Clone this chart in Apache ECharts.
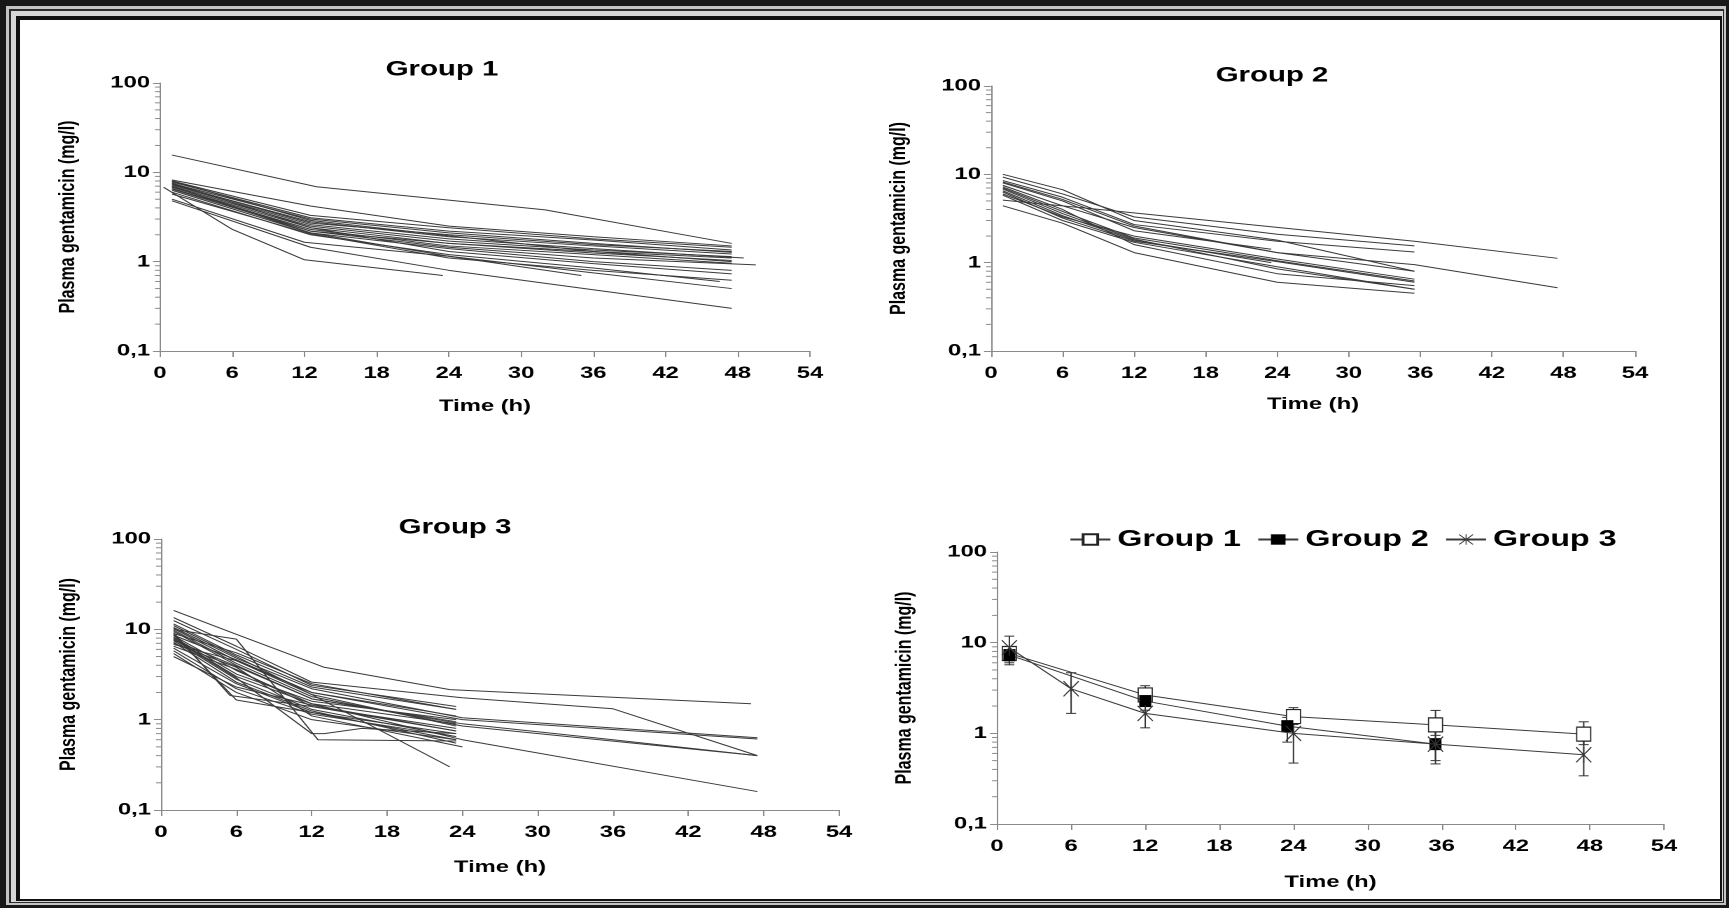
<!DOCTYPE html>
<html>
<head>
<meta charset="utf-8">
<script src="https://cdn.jsdelivr.net/npm/echarts@6/dist/echarts.min.js"></script>
<style>
  html, body { margin: 0; padding: 0; overflow: hidden; background: #181818; }
  .band { position: absolute; }
  #chart { position: absolute; left: 0; top: 0; height: 908px; transform-origin: 0 0; }
</style>
</head>
<body>
<div class="band" style="left:6px;top:6px;right:3px;bottom:3px;background:#c4c4c4"></div>
<div class="band" style="left:9px;top:9px;right:5px;bottom:5px;background:#2a2a2a"></div>
<div class="band" style="left:11px;top:11px;right:6px;bottom:6px;background:#d6d6d6"></div>
<div class="band" style="left:16px;top:16px;right:7px;bottom:7px;background:#111"></div>
<div class="band" style="left:20px;top:20px;right:9px;bottom:9px;background:#fff"></div>
<div id="chart"></div>
<script>
// the figure is stretched horizontally, so draw narrower and scale up
var STRETCH = 1.4;
function sx(x) { return x / STRETCH; }

// time (h), concentration (mg/l) for each patient
var group1Curves = [
  [[1, 15.6], [13, 6.9], [32, 3.8], [47.5, 1.6]],
  [[0.3, 6.8], [6, 2.3], [12, 1.05], [23.5, 0.7]],
  [[1, 5.0], [12, 1.65], [24, 1.15], [35, 0.7]],
  [[1, 4.8], [12.5, 1.45], [24, 0.8], [47.5, 0.3]],
  [[1, 8.2], [12.5, 4.2], [24, 2.5], [36, 1.9], [47.5, 1.5]],
  [[1, 8.0], [12.5, 3.3], [24, 2.4], [36, 1.8], [47.5, 1.45]],
  [[1, 7.8], [12.5, 3.1], [24, 2.2], [36, 1.75], [47.5, 1.35]],
  [[1, 7.5], [12.5, 3.0], [24, 2.1], [36, 1.6], [47.5, 1.27]],
  [[1, 7.3], [12.5, 2.8], [24, 1.9], [36, 1.5], [47.5, 1.22]],
  [[1, 7.2], [12.5, 2.6], [24, 1.8], [36, 1.4], [48.5, 1.1]],
  [[1, 7.0], [12.5, 2.5], [24, 1.7], [36, 1.35], [47.5, 1.14]],
  [[1, 6.8], [12.5, 2.4], [24, 1.6], [36, 1.25], [47.5, 1.03]],
  [[1, 6.6], [12.5, 2.3], [24, 1.5], [36, 1.2], [47.5, 0.96]],
  [[1, 6.5], [12.5, 2.2], [24, 1.45], [36, 1.1], [49.5, 0.92]],
  [[1, 6.3], [12.5, 2.1], [24, 1.4], [36, 1.0], [47.5, 0.8]],
  [[1, 7.6], [12.5, 2.4], [24, 1.3], [36, 0.95], [47.5, 0.73]],
  [[1, 6.0], [12.5, 2.0], [24, 1.2], [36, 0.85], [46.5, 0.6]],
  [[1, 5.7], [12.5, 2.05], [24, 1.1], [36, 0.8], [47.5, 0.62]],
  [[1, 7.0], [12.5, 2.1], [24, 1.15], [36, 0.75], [47.5, 0.5]],
  [[1, 8.0], [12.5, 2.9], [24, 1.95], [36, 1.3], [47.5, 1.0]],
  [[1, 7.4], [12.5, 2.7], [24, 2.0], [36, 1.55], [47.5, 1.3]],
  [[1, 6.9], [12.5, 2.2], [24, 1.6], [36, 1.3], [47.5, 1.1]]
];

var group2Curves = [
  [[1, 10], [6, 6.7], [12, 3.0], [24, 1.8], [35.5, 0.8]],
  [[1, 5.1], [10, 3.9], [35.5, 1.75], [47.5, 1.12]],
  [[1, 9.3], [6, 6.0], [12, 3.3], [24, 2.1], [35.5, 1.55]],
  [[1, 8.5], [6, 5.5], [12, 2.7], [24, 1.75], [35.5, 1.32]],
  [[1, 8.2], [6, 5.2], [12, 2.6], [24, 1.3], [35.5, 0.95], [47.5, 0.52]],
  [[1, 7.5], [6, 4.4], [12, 2.5], [24, 1.3], [35.5, 0.8]],
  [[1, 7.0], [6, 3.8], [12, 1.9], [24, 1.05], [35.5, 0.62]],
  [[1, 6.5], [6, 3.4], [12, 1.8], [23.5, 1.0]],
  [[1, 6.3], [6, 3.2], [12, 1.75], [23.5, 1.05], [35.5, 0.6]],
  [[1, 5.8], [6, 3.0], [12, 1.7], [24, 0.9], [35.5, 0.5]],
  [[1, 6.8], [6, 3.6], [12, 1.85], [24, 0.85], [35.5, 0.5]],
  [[1, 4.4], [6, 2.8], [12, 1.3], [24, 0.6], [35.5, 0.45]],
  [[1, 7.2], [6, 4.0], [12, 1.6], [24, 0.75], [35.5, 0.55]],
  [[1, 8.0], [6, 5.0], [12, 2.3], [23.5, 1.42]],
  [[1, 6.0], [6, 3.3], [12, 2.0], [24, 1.1], [35.5, 0.65]]
];

var group3Curves = [
  [[1, 16.2], [6, 8.8], [13, 3.8], [23, 2.15], [47, 1.5]],
  [[1, 13.5], [6, 6.5], [12, 2.6], [24, 1.75], [36, 1.32], [47.5, 0.4]],
  [[1, 12.5], [6, 6.0], [12, 2.4], [23.5, 1.4]],
  [[1, 11.5], [6, 5.2], [12, 2.3], [23.5, 1.3]],
  [[1, 10.5], [6, 4.8], [12, 2.2], [24, 1.05], [47.5, 0.63]],
  [[1, 10.2], [6, 4.5], [12, 2.0], [24, 1.0], [47.5, 0.61]],
  [[1, 10], [6, 7.8], [12.5, 0.6], [23.5, 0.58]],
  [[1, 9.8], [6, 4.2], [12, 1.8], [24, 0.85], [47.5, 0.4]],
  [[1, 9.5], [6, 4.0], [12, 1.7], [24, 0.9], [36, 0.6], [47.5, 0.4]],
  [[1, 9.2], [5.5, 1.85], [12, 1.4], [23.5, 0.75]],
  [[1, 8.8], [6, 1.65], [12, 1.2], [23.5, 0.6]],
  [[1, 8.5], [6, 3.5], [12, 1.5], [24, 0.6], [47.5, 0.16]],
  [[1, 8.2], [6, 3.2], [12, 1.6], [23.5, 1.0]],
  [[1, 8.0], [6, 3.0], [12, 1.5], [23.5, 0.9]],
  [[1, 7.8], [6, 2.9], [12, 0.7], [13, 0.7], [16, 0.8], [23.5, 0.7]],
  [[1, 7.5], [6, 2.8], [12, 1.3], [23.5, 0.65]],
  [[1, 7.2], [6, 2.6], [12, 1.25], [23.5, 0.55]],
  [[1, 7.0], [6, 3.8], [12, 1.1], [24, 0.5]],
  [[1, 6.8], [6, 4.5], [12, 1.9], [23, 0.3]],
  [[1, 6.5], [6, 3.6], [12, 1.4], [23.5, 0.8]],
  [[1, 6.2], [6, 2.5], [12, 1.2], [23.5, 0.7]],
  [[1, 5.8], [6, 2.2], [12, 1.15], [23.5, 0.65]],
  [[1, 5.4], [6, 2.0], [12, 1.0], [23.5, 0.6]],
  [[1, 5.0], [6, 2.3], [12, 1.45], [23.5, 0.75]],
  [[1, 9.0], [6, 5.5], [12, 2.5], [23.5, 1.3]],
  [[1, 8.6], [6, 4.6], [12, 2.0], [23.5, 1.1]],
  [[1, 7.6], [6, 3.9], [12, 1.7], [23.5, 0.95]],
  [[1, 11], [6, 5.0], [12, 1.9], [23.5, 0.85]]
];

// mean and spread per group (last panel)
var meanTime1 = [1, 12, 24, 35.5, 47.5];
var mean1 = [7.6, 2.65, 1.53, 1.24, 0.98];
var low1 = [6.3, 2.1, 1.25, 0.95, 0.75];
var high1 = [9.0, 3.35, 1.92, 1.79, 1.34];

var meanTime2 = [1, 12, 23.5, 35.5];
var mean2 = [7.3, 2.27, 1.2, 0.76];
var low2 = [6.0, 1.8, 0.8, 0.46];
var high2 = [8.6, 2.9, 1.5, 1.1];

var meanTime3 = [1, 6, 12, 24, 35.5, 47.5];
var mean3 = [8.8, 3.1, 1.66, 1.0, 0.76, 0.58];
var low3 = [5.7, 1.66, 1.15, 0.47, 0.5, 0.34];
var high3 = [11.8, 4.66, 2.3, 1.4, 1.05, 0.9];

var minorTickValues = [0.2, 0.3, 0.4, 0.5, 0.6, 0.7, 0.8, 0.9,
  2, 3, 4, 5, 6, 7, 8, 9, 20, 30, 40, 50, 60, 70, 80, 90];

var FONT = '"Liberation Sans", Arial, sans-serif';
var AXIS_COLOR = '#8a8a8a';
var LINE_COLOR = '#3a3a3a';

var dom = document.getElementById('chart');
dom.style.width = sx(1729) + 'px';
dom.style.transform = 'scaleX(' + STRETCH + ')';
var chart = echarts.init(dom, null, { renderer: 'canvas', devicePixelRatio: 2 });

// panel boxes in page pixels: left, top, width, height, x-name gap
var panels = [
  [160, 83, 650, 268, 47],
  [991, 86, 644, 265, 45],
  [161, 539, 678, 271, 49],
  [997, 552, 667, 272, 50]
];

var grids = [], xAxes = [], yAxes = [], series = [];
panels.forEach(function (p, i) {
  grids.push({ left: sx(p[0]), top: p[1], width: sx(p[2]), height: p[3] });
  xAxes.push({
    gridIndex: i, type: 'value', min: 0, max: 54, interval: 6,
    name: 'Time (h)', nameLocation: 'middle', nameGap: p[4],
    nameTextStyle: { color: '#000', fontWeight: 'bold', fontSize: 17, fontFamily: FONT },
    axisLine: { show: true, lineStyle: { color: AXIS_COLOR, width: 1 } },
    axisTick: { show: true, length: 6, lineStyle: { color: AXIS_COLOR } },
    axisLabel: { color: '#000', fontWeight: 'bold', fontSize: 17, fontFamily: FONT, margin: 14 },
    splitLine: { show: false }
  });
  yAxes.push({
    gridIndex: i, type: 'log', logBase: 10, min: 0.1, max: 100,
    name: 'Plasma gentamicin (mg/l)', nameLocation: 'middle', nameGap: sx(81),
    nameTextStyle: { color: '#000', fontWeight: 'bold', fontSize: 16, fontFamily: FONT },
    axisLine: { show: true, lineStyle: { color: AXIS_COLOR, width: 1 } },
    axisTick: { show: true, length: sx(7), lineStyle: { color: AXIS_COLOR } },
    axisLabel: {
      color: '#000', fontWeight: 'bold', fontSize: 17, fontFamily: FONT, margin: sx(10),
      formatter: function (v) { return String(Math.round(v * 10) / 10).replace('.', ','); }
    },
    splitLine: { show: false }
  });
  series.push({
    type: 'custom', xAxisIndex: i, yAxisIndex: i, silent: true, z: 1,
    data: minorTickValues.map(function (v) { return [0, v]; }),
    renderItem: function (params, api) {
      var pt = api.coord([api.value(0), api.value(1)]);
      return {
        type: 'line',
        shape: { x1: pt[0] - sx(5), y1: pt[1], x2: pt[0], y2: pt[1] },
        style: { stroke: AXIS_COLOR, lineWidth: 1 }
      };
    }
  });
});

[group1Curves, group2Curves, group3Curves].forEach(function (curves, gi) {
  curves.forEach(function (c) {
    series.push({
      type: 'line', xAxisIndex: gi, yAxisIndex: gi, data: c,
      symbol: 'none', silent: true,
      lineStyle: { color: LINE_COLOR, width: 1 }
    });
  });
});

function zip(a, b) { return a.map(function (t, k) { return [t, b[k]]; }); }
function zip3(a, b, c) { return a.map(function (t, k) { return [t, b[k], c[k]]; }); }

function errorBar(params, api) {
  var t = api.value(0);
  var a = api.coord([t, api.value(1)]);
  var b = api.coord([t, api.value(2)]);
  var w = sx(5);
  var st = { stroke: '#333', lineWidth: 1 };
  return {
    type: 'group',
    children: [
      { type: 'line', shape: { x1: a[0], y1: a[1], x2: b[0], y2: b[1] }, style: st },
      { type: 'line', shape: { x1: a[0] - w, y1: a[1], x2: a[0] + w, y2: a[1] }, style: st },
      { type: 'line', shape: { x1: b[0] - w, y1: b[1], x2: b[0] + w, y2: b[1] }, style: st }
    ]
  };
}

[[meanTime1, low1, high1], [meanTime2, low2, high2], [meanTime3, low3, high3]].forEach(function (e) {
  series.push({
    type: 'custom', xAxisIndex: 3, yAxisIndex: 3, silent: true, z: 2,
    data: zip3(e[0], e[1], e[2]), renderItem: errorBar
  });
});

var ASTERISK = 'path://M9.3,0L10.7,0L10.7,20L9.3,20ZM0,1L1,0L20,19L19,20ZM19,0L20,1L1,20L0,19Z';

series.push({
  name: 'Group 1', type: 'line', xAxisIndex: 3, yAxisIndex: 3, z: 5,
  data: zip(meanTime1, mean1), symbol: 'rect', symbolSize: [sx(14), 14],
  itemStyle: { color: '#fff', borderColor: '#222', borderWidth: 1 },
  lineStyle: { color: LINE_COLOR, width: 1 }
});
series.push({
  name: 'Group 2', type: 'line', xAxisIndex: 3, yAxisIndex: 3, z: 6,
  data: zip(meanTime2, mean2), symbol: 'rect', symbolSize: [sx(12), 12],
  itemStyle: { color: '#000' },
  lineStyle: { color: LINE_COLOR, width: 1 }
});
series.push({
  name: 'Group 3', type: 'line', xAxisIndex: 3, yAxisIndex: 3, z: 7,
  data: zip(meanTime3, mean3), symbol: ASTERISK, symbolSize: [sx(16), 16],
  itemStyle: { color: '#333' },
  lineStyle: { color: LINE_COLOR, width: 1 }
});

var titleStyle = { color: '#000', fontWeight: 'bold', fontSize: 21, fontFamily: FONT };
var option = {
  animation: false,
  title: [
    { text: 'Group 1', left: sx(435), top: 54, textAlign: 'center', textStyle: titleStyle },
    { text: 'Group 2', left: sx(1265), top: 60, textAlign: 'center', textStyle: titleStyle },
    { text: 'Group 3', left: sx(448), top: 512, textAlign: 'center', textStyle: titleStyle }
  ],
  legend: {
    data: ['Group 1', 'Group 2', 'Group 3'],
    left: sx(1062), top: 523,
    itemWidth: sx(40), itemHeight: 13, itemGap: sx(16),
    selectedMode: false,
    textStyle: { color: '#000', fontWeight: 'bold', fontSize: 23, fontFamily: FONT }
  },
  grid: grids,
  xAxis: xAxes,
  yAxis: yAxes,
  series: series
};
chart.setOption(option);
</script>
</body>
</html>
